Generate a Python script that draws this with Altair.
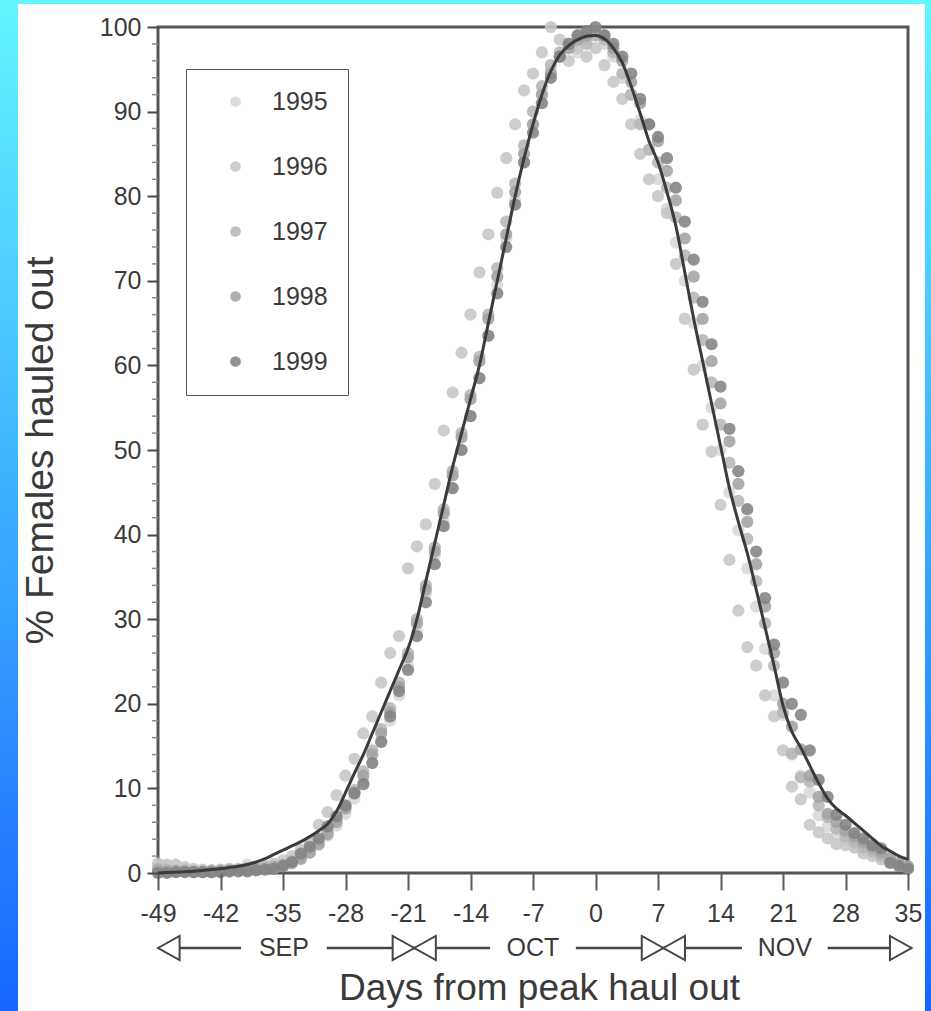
import altair as alt
import pandas as pd

# ---------------- data ----------------
days = list(range(-49, 36))
years = ["1995", "1996", "1997", "1998", "1999"]

y1995 = [0.9, 1.0, 0.8, 0.5, 0.3, 0.2, 0.2,
         0.2, 0.3, 0.3, 1.0, 0.6, 0.5, 0.6,
         0.8, 1.1, 1.6, 2.4, 3.3, 4.4, 5.6,
         7.0, 8.8, 10.8, 13.0, 15.5, 18.0, 21.0,
         24.5, 28.5, 33.0, 37.5, 41.5, 45.5, 50.0,
         54.0, 58.5, 63.5, 69.5, 75.0, 79.5, 84.0,
         88.5, 92.0, 95.0, 96.5, 97.5, 97.0, 98.5,
         99.0, 98.0, 96.5, 94.0, 92.0, 89.0, 85.5,
         82.0, 78.5, 74.5, 70.0, 65.0, 60.0, 55.0,
         50.0, 45.0, 40.5, 36.0, 31.5, 26.5, 21.0,
         18.7, 14.0, 11.5, 9.5, 6.8, 5.5, 4.5,
         3.8, 3.2, 2.7, 2.2, 1.8, 1.5, 1.1,
         0.7]
y1996 = [1.1, 0.9, 1.0, 0.7, 0.5, 0.4, 0.3,
         0.4, 0.5, 0.5, 0.6, 0.7, 0.9, 1.1,
         1.5, 2.0, 2.8, 3.6, 5.7, 7.2, 9.2,
         11.5, 13.5, 16.5, 18.5, 22.5, 26.0, 28.0,
         36.0, 38.6, 41.2, 46.0, 52.3, 56.8, 61.5,
         66.0, 71.0, 75.5, 80.4, 84.5, 88.5, 92.5,
         94.5, 97.0, 100.0, 98.5, 96.0, 97.5, 96.5,
         97.5, 95.5, 93.5, 91.5, 88.5, 85.0, 82.0,
         80.0, 78.0, 72.0, 65.5, 59.5, 53.0, 49.8,
         43.5, 37.0, 31.0, 26.7, 24.5, 21.0, 18.5,
         14.5, 10.2, 8.7, 5.7, 4.8, 4.1, 3.4,
         3.3, 3.0, 2.3, 2.0, 1.6, 1.3, 1.0,
         0.6]
y1997 = [0.5, 0.4, 0.3, 0.3, 0.2, 0.2, 0.3,
         0.3, 0.4, 0.4, 0.5, 0.6, 0.7, 0.8,
         1.0, 1.4, 2.0, 2.8, 3.8, 4.9, 6.2,
         7.8, 9.8, 12.0, 14.5, 17.0, 19.5, 22.5,
         26.0, 30.0, 34.0, 38.5, 43.0, 47.5, 52.0,
         56.5, 61.0, 66.0, 71.5, 77.0, 81.5, 86.0,
         90.0, 93.0, 95.5, 97.0, 98.0, 99.0, 98.0,
         99.0, 98.5, 97.0, 94.5, 92.0, 88.5, 85.5,
         84.0, 81.0, 77.5, 73.0, 68.0, 63.0, 58.0,
         53.0, 48.5, 44.0, 39.5, 34.5, 29.5, 24.5,
         19.0, 14.1, 11.3, 10.8, 8.0, 6.6, 5.2,
         4.3, 3.7, 3.0, 2.6, 2.0, 1.5, 1.0,
         0.6]
y1998 = [0.3, 0.2, 0.2, 0.2, 0.1, 0.1, 0.1,
         0.2, 0.2, 0.3, 0.3, 0.4, 0.5, 0.7,
         0.9, 1.2, 1.7, 2.4, 3.4, 4.6, 6.0,
         7.6, 9.5, 11.5, 14.0, 16.5, 19.0, 22.0,
         25.5, 29.5, 33.5, 38.0, 42.5, 47.0, 51.5,
         56.0, 60.5, 65.5, 70.5, 75.5, 80.5, 85.0,
         88.5, 92.0, 94.5, 96.5, 97.5, 98.5, 99.0,
         99.5, 99.0, 97.5, 96.0, 93.5, 91.0, 88.5,
         86.5, 83.0, 79.5, 75.0, 70.5, 65.5, 60.5,
         55.5, 51.0, 46.0, 41.5, 36.5, 31.5, 26.0,
         20.0, 17.3, 14.6, 11.5, 9.0, 7.0, 6.0,
         5.0, 4.3, 3.6, 3.0, 2.4, 1.8, 1.2,
         0.8]
y1999 = [0.0, 0.0, 0.1, 0.1, 0.1, 0.1, 0.1,
         0.1, 0.2, 0.2, 0.2, 0.3, 0.4, 0.5,
         0.8, 1.3, 2.3, 3.1, 4.1, 5.5, 6.7,
         8.0, 9.4, 10.5, 13.0, 15.5, 18.5, 21.5,
         24.0, 28.0, 32.0, 36.5, 41.0, 45.5, 50.0,
         54.0, 58.5, 63.5, 68.5, 74.0, 79.0, 84.0,
         87.5, 91.0, 94.0, 96.5, 98.0, 99.0, 99.5,
         100.0, 99.0, 98.0, 96.5, 94.5, 91.5, 88.5,
         87.0, 84.5, 81.0, 77.0, 72.5, 67.5, 62.5,
         57.5, 52.5, 47.5, 43.0, 38.0, 32.5, 27.0,
         22.5, 20.0, 18.7, 14.5, 11.0, 9.0, 6.9,
         5.7, 4.7, 4.1, 3.3, 2.9, 1.2, 0.8,
         0.5]
mean_curve = [0.0, 0.05, 0.1, 0.15, 0.2, 0.3, 0.4,
              0.5, 0.65, 0.8, 1.0, 1.3, 1.7, 2.2,
              2.7, 3.2, 3.7, 4.3, 5.0, 5.8, 7.3,
              9.5, 11.8, 14.0, 16.5, 19.0, 21.5, 24.0,
              26.5, 30.0, 34.5, 39.0, 43.5, 48.0, 52.0,
              56.0, 60.0, 65.0, 70.0, 75.0, 80.0, 84.5,
              88.5, 92.0, 94.8, 96.7, 97.8, 98.5, 98.9,
              99.0, 98.6, 97.5, 95.8, 93.0, 89.8, 86.5,
              84.0, 80.5, 76.5, 71.0, 65.5, 60.5, 55.5,
              50.5, 45.5, 41.5, 37.8, 33.5, 29.0, 24.5,
              19.8, 16.7, 14.8, 12.7, 10.6, 8.8, 7.6,
              6.8, 5.9, 5.0, 4.1, 3.2, 2.6, 2.0,
              1.6]

x_ticks = list(range(-49, 36, 7))
y_ticks = list(range(0, 101, 10))
y_minor = [v for v in range(0, 101, 2) if v % 10 != 0]

month_names = ["SEP", "OCT", "NOV"]
month_start = [-49.0, -20.3, 7.6]
month_end = [-20.3, 7.6, 35.4]
month_label_day = [-34.9, -7.0, 21.2]
label_gap = 4.8

# ---------------- styling ----------------
FONT = "Liberation Sans"
TEXT = "#3a3a3a"
FRAME = "#555555"
W, H = 750, 846
PAD = {"left": 158, "top": 27, "right": 23, "bottom": 138}
grey_range = ["#d8d8d8", "#c6c6c6", "#b6b6b6", "#a3a3a3", "#838383"]

rows = []
for yr, vals in zip(years, [y1995, y1996, y1997, y1998, y1999]):
    for d, v in zip(days, vals):
        rows.append({"day": d, "pct": v, "year": yr})
pts_df = pd.DataFrame(rows)
line_df = pd.DataFrame({"day": days, "pct": mean_curve})
minor_df = pd.DataFrame({"pct": y_minor})

seg_rows = []
for s, e, c in zip(month_start, month_end, month_label_day):
    seg_rows.append({"day": s, "day2": c - label_gap})
    seg_rows.append({"day": c + label_gap, "day2": e})
seg_df = pd.DataFrame(seg_rows)
left_tips = pd.DataFrame({"day": month_start})
right_tips = pd.DataFrame({"day": month_end})
mlab_df = pd.DataFrame({"day": month_label_day, "name": month_names})

xscale = alt.Scale(domain=[-49, 35], nice=False, zero=False)
yscale = alt.Scale(domain=[0, 100], nice=False, zero=False)

x_axis = alt.Axis(values=x_ticks, title="Days from peak haul out",
                  labelExpr="toString(datum.value)", tickSize=17, tickWidth=2,
                  tickColor="#5a5a5a", labelPadding=11, labelFontSize=25,
                  labelFont=FONT, labelColor=TEXT, titleFont=FONT,
                  titleFontSize=37, titleColor=TEXT, titleFontWeight="normal",
                  titlePadding=44, titleX=381, domain=False, grid=False,
                  labelFlush=False, zindex=1)
y_axis = alt.Axis(values=y_ticks, title="% Females hauled out", tickSize=11,
                  tickWidth=2, tickColor="#4a4a4a", labelPadding=6,
                  labelFontSize=25, labelFont=FONT, labelColor=TEXT,
                  titleFont=FONT, titleFontSize=39, titleColor=TEXT,
                  titleFontWeight="normal", titlePadding=39, domain=False,
                  grid=False, labelFlush=False, zindex=1)

one = alt.Data(values=[{"k": 1}])
grad = alt.LinearGradient(gradient="linear", x1=0, x2=0, y1=0, y2=1,
                          stops=[alt.GradientStop(color="#62f6ff", offset=0),
                                 alt.GradientStop(color="#1766ff", offset=1)])

strip_left = alt.Chart(one).mark_rect(color=grad).encode(
    x=alt.value(-158), x2=alt.value(-140), y=alt.value(-27), y2=alt.value(984))
strip_right = alt.Chart(one).mark_rect(color=grad).encode(
    x=alt.value(767), x2=alt.value(773), y=alt.value(-27), y2=alt.value(984))
strip_top = alt.Chart(one).mark_rect(color="#62f6ff").encode(
    x=alt.value(-158), x2=alt.value(773), y=alt.value(-27), y2=alt.value(-23))

X = alt.X("day:Q", scale=xscale, axis=x_axis)
Y = alt.Y("pct:Q", scale=yscale, axis=y_axis)

points = alt.Chart(pts_df).mark_circle(size=150, opacity=0.88).encode(
    x=X, y=Y,
    color=alt.Color("year:N", scale=alt.Scale(domain=years, range=grey_range),
                    legend=alt.Legend(title=None, orient="none", legendX=28,
                                      legendY=42, padding=20, symbolOffset=17,
                                      labelOffset=24, rowPadding=39,
                                      strokeColor=FRAME, fillColor="white",
                                      symbolSize=115, symbolType="circle",
                                      symbolStrokeWidth=0, labelFontSize=25,
                                      labelFont=FONT, labelColor=TEXT)))

line = alt.Chart(line_df).mark_line(color="#3b3b3b", strokeWidth=3,
                                    interpolate="monotone").encode(x=X, y=Y)

minor = alt.Chart(minor_df).mark_rule(color="#8a8a8a", strokeWidth=1.5).encode(
    y=Y, x=alt.value(-6), x2=alt.value(0))

segs = alt.Chart(seg_df).mark_rule(color="#454545", strokeWidth=2.5).encode(
    x=X, x2="day2:Q", y=alt.value(921))
larrow = alt.Chart(left_tips).mark_point(
    shape="M0,0L1.8,-1L1.8,1Z", size=576, filled=True, fill="white",
    stroke="#454545", strokeWidth=2, opacity=1).encode(x=X, y=alt.value(921))
rarrow = alt.Chart(right_tips).mark_point(
    shape="M0,0L-1.8,-1L-1.8,1Z", size=576, filled=True, fill="white",
    stroke="#454545", strokeWidth=2, opacity=1).encode(x=X, y=alt.value(921))
mlabels = alt.Chart(mlab_df).mark_text(font=FONT, fontSize=25, color=TEXT,
                                       baseline="middle", align="center").encode(
    x=X, y=alt.value(921), text="name:N")

chart = alt.layer(
    strip_left, strip_right, strip_top, minor, points, line,
    segs, larrow, rarrow, mlabels
).properties(
    width=W, height=H, padding=PAD,
    autosize=alt.AutoSizeParams(type="none")
).configure(background="white").configure_view(stroke=FRAME, strokeWidth=3)

chart.save("out.html", embed_options={"renderer": "svg", "actions": False})
